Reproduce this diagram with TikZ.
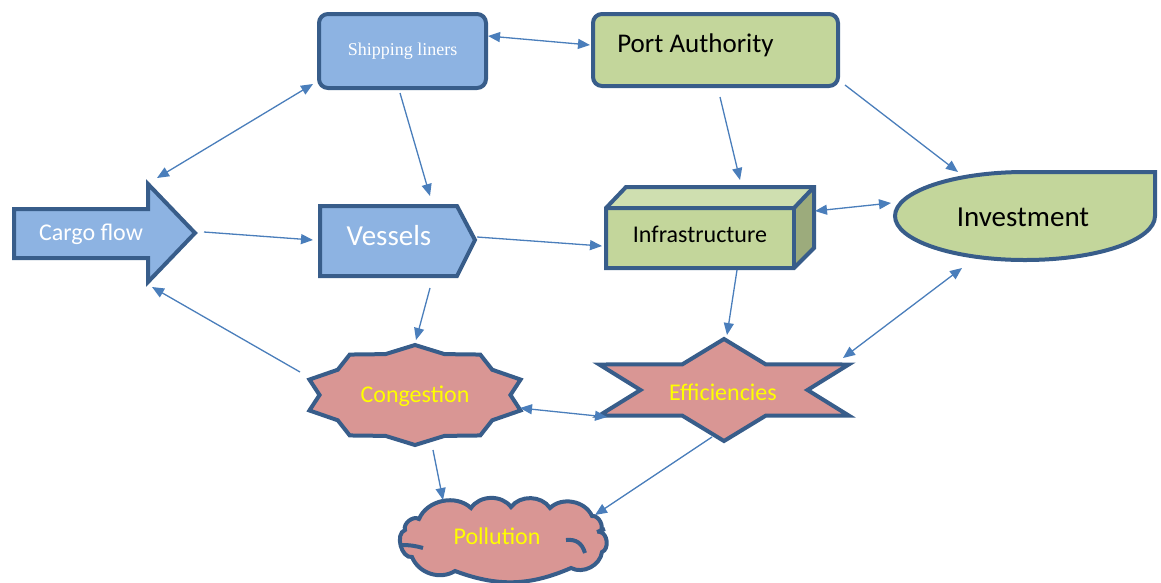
\documentclass[tikz,border=0pt]{standalone}
\usepackage{fontspec}
\setmainfont{Carlito}
\newfontfamily\shipfont{Liberation Serif}
\usetikzlibrary{arrows.meta,calc}
\definecolor{bord}{HTML}{385D8A}
\definecolor{arrc}{HTML}{4A7EBB}
\definecolor{bluef}{HTML}{8DB3E2}
\definecolor{greenf}{HTML}{C3D69B}
\definecolor{greentop}{HTML}{CFDFB0}
\definecolor{greenside}{HTML}{9CAB7C}
\definecolor{pinkf}{HTML}{D99694}
\definecolor{yel}{HTML}{FFFF00}
\begin{document}
\begin{tikzpicture}[x=1pt,y=-1pt,
  shapeline/.style={draw=bord,line width=4pt,line join=miter},
  tipA/.tip={Triangle[length=12pt,width=10pt]},
  arr/.style={draw=arrc,line width=1.3pt,-tipA},
  darr/.style={draw=arrc,line width=1.3pt,tipA-tipA},
  lbl/.style={inner sep=0pt,font=\fontsize{24}{28}\selectfont}
]
\useasboundingbox (0,0) rectangle (1161,582);

% Cargo flow arrow
\path[shapeline,fill=bluef] (14,209) -- (148,209) -- (148,184) -- (195,233) -- (148,282) -- (148,258) -- (14,258) -- cycle;
\node[lbl,text=white] (cargo) at (91,234) {Cargo flow};

% Shipping liners
\node[shapeline,fill=bluef,rounded corners=9pt,minimum width=167pt,minimum height=74pt,inner sep=0pt,text=white,font=\shipfont\fontsize{18}{21}\selectfont] (ship) at (402.5,51) {Shipping liners};

% Port Authority
\node[shapeline,fill=greenf,rounded corners=9pt,minimum width=245pt,minimum height=72pt] (pa) at (715.5,50) {};
\node[lbl,font=\fontsize{27}{31}\selectfont] (patext) at (695.5,45) {Port Authority};

% Vessels
\path[shapeline,fill=bluef] (320,206) -- (457,206) -- (475,240) -- (457,276) -- (320,276) -- cycle;
\node[lbl,text=white,font=\fontsize{29}{33}\selectfont] (vessels) at (389,236) {Vessels};

% Infrastructure cube
\fill[greentop] (606,208) -- (626,187) -- (814,187) -- (794,208) -- cycle;
\fill[greenside] (794,208) -- (814,187) -- (814,248) -- (794,268) -- cycle;
\fill[greenf] (606,208) rectangle (794,268);
\draw[shapeline] (606,208) -- (626,187) -- (814,187) -- (814,248) -- (794,268) -- (606,268) -- cycle;
\draw[shapeline] (606,208) -- (794,208) -- (814,187);
\draw[shapeline] (794,208) -- (794,268);
\node[lbl,font=\fontsize{24}{28}\selectfont] (infra) at (700,234) {Infrastructure};

% Investment
\path[shapeline,fill=greenf] (1155,216) arc[start angle=0,end angle=270,x radius=130,y radius=44] -- (1155,172) -- cycle;
\node[lbl,font=\fontsize{29}{33}\selectfont] (invest) at (1023,217) {Investment};

% Congestion (10-point star)
\path[shapeline,fill=pinkf] plot[samples at={0,...,19}] ({415+111*cos(90+18*\x)*(mod(\x,2)==0?1:0.86)},{395+50*sin(90+18*\x)*(mod(\x,2)==0?1:0.86)}) -- cycle;
\node[lbl,text=yel] (cong) at (415,396) {Congestion};

% Efficiencies (6-point star)
\path[shapeline,fill=pinkf] plot[samples at={0,...,11}] ({724+144*cos(90+30*\x)*(mod(\x,2)==0?1:0.58)},{390+51*sin(90+30*\x)*(mod(\x,2)==0?1:0.58)}) -- cycle;
\node[lbl,text=yel] (eff) at (723,392) {Efficiencies};

% Pollution cloud
\coordinate (k1) at (419,519);
\coordinate (k2) at (471,508);
\coordinate (k3) at (511,507);
\coordinate (k4) at (550,508);
\coordinate (k5) at (592,516);
\coordinate (k6) at (600,532);
\coordinate (k7) at (602,552);
\coordinate (k8) at (571,568);
\coordinate (k9) at (455,571);
\coordinate (k10) at (412,557);
\coordinate (k11) at (405,530);
\path[shapeline,fill=pinkf,line join=miter] (k1) to[bend left=55] (k2) to[bend left=55] (k3) to[bend left=55] (k4)
  to[bend left=55] (k5) to[bend left=70] (k6) to[bend left=75] (k7) to[bend left=55] (k8)
  to[bend left=22] (k9) to[bend left=50] (k10) to[bend left=85] (k11) to[bend left=70] (k1) -- cycle;
\draw[bord,line width=4pt] (401,545) to[bend left=8] (423,548);
\draw[bord,line width=4pt] (566,540) .. controls (576,539) and (582,543) .. (585,553);
\draw[bord,line width=4pt] (597,532) -- (605,529);
\node[lbl,text=yel] (poll) at (497,536) {Pollution};

% Connectors
\draw[darr] ($(cargo)+(66,-56)$) -- ($(ship)+(-89.5,33)$);
\draw[darr] ($(ship)+(85.5,-15)$) -- ($(pa)+(-125.5,-5)$);
\draw[arr] ($(cargo)+(113,-2)$) -- ($(vessels)+(-76,4)$);
\draw[arr] ($(ship)+(-2.5,42)$) -- ($(vessels)+(41,-40)$);
\draw[arr] ($(vessels)+(88,1)$) -- ($(infra)+(-98,12)$);
\draw[arr] ($(pa)+(4.5,47)$) -- ($(infra)+(40,-54)$);
\draw[arr] ($(pa)+(129.5,35)$) -- ($(invest)+(-65,-45)$);
\draw[darr] ($(infra)+(115,-23)$) -- ($(invest)+(-132,-14)$);
\draw[arr] ($(vessels)+(41,52)$) -- ($(cong)+(1,-56)$);
\draw[arr] ($(cong)+(-115,-24)$) -- ($(cargo)+(61,53)$);
\draw[arr] ($(infra)+(37,36)$) -- ($(eff)+(4,-57)$);
\draw[darr] ($(invest)+(-61,51)$) -- ($(eff)+(120,-34)$);
\draw[darr] ($(cong)+(105,12)$) -- ($(eff)+(-116,25)$);
\draw[arr] ($(cong)+(18,54)$) -- ($(poll)+(-54,-36)$);
\draw[arr] ($(eff)+(-11,45)$) -- ($(poll)+(98,-21)$);
\end{tikzpicture}
\end{document}
